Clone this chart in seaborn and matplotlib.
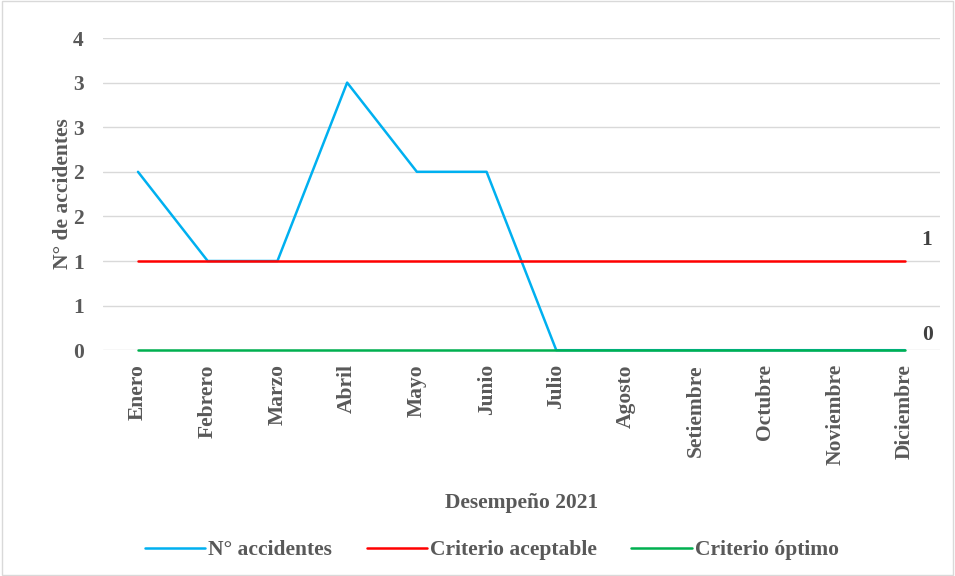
import numpy as np
import pandas as pd
import matplotlib
matplotlib.use("Agg")
import matplotlib.pyplot as plt
from matplotlib.ticker import FuncFormatter
import seaborn as sns

months = ["Enero", "Febrero", "Marzo", "Abril", "Mayo", "Junio", "Julio",
          "Agosto", "Setiembre", "Octubre", "Noviembre", "Diciembre"]
accidentes = [2, 1, 1, 3, 2, 2, 0, 0, 0, 0, 0, 0]
aceptable = [1] * 12
optimo = [0] * 12
series_names = ["N° accidentes", "Criterio aceptable", "Criterio óptimo"]
colors = ["#00B0F0", "#FF0000", "#00B050"]

sns.set_theme(style="white")
plt.rcParams["font.family"] = ["Liberation Serif", "DejaVu Serif"]
plt.rcParams["font.weight"] = "bold"

FS = 15.5
TXT = "#595959"

fig = plt.figure(figsize=(9.55, 5.76), dpi=100)
ax = fig.add_axes([0.108, 0.392, 0.876, 0.542])

x = np.arange(len(months))
for i, (name, vals, col) in enumerate(zip(series_names, [accidentes, aceptable, optimo], colors)):
    sns.lineplot(x=x, y=vals, color=col, linewidth=1.8, sort=False, ax=ax,
                 label=name, zorder=3 + i, clip_on=False)

ax.set_xlim(-0.5, 11.5)
ax.set_ylim(0, 3.5)
ax.set_yticks(np.arange(0, 3.51, 0.5))
ax.yaxis.set_major_formatter(FuncFormatter(lambda v, p: f"{int(np.floor(v + 0.5))}"))
ax.set_xticks(x)
ax.set_xticklabels(months, rotation=90)
ax.grid(axis="y", color="#D9D9D9", linewidth=1)
ax.set_axisbelow(True)
for s in ax.spines.values():
    s.set_visible(False)
ax.tick_params(axis="both", length=0, colors=TXT, labelsize=FS)
ax.tick_params(axis="x", pad=10)
ax.tick_params(axis="y", pad=14)
for lbl in ax.get_xticklabels() + ax.get_yticklabels():
    lbl.set_fontweight("bold")

ax.set_xlabel("Desempeño 2021", fontsize=FS, fontweight="bold", color=TXT, labelpad=20)
ax.set_ylabel("N° de accidentes", fontsize=FS, fontweight="bold", color=TXT, labelpad=0)

# value labels at the end of the reference lines
ax.annotate(f"{aceptable[-1]}", (11, aceptable[-1]), xytext=(16, 8), textcoords="offset points",
            ha="center", va="bottom", fontsize=FS, fontweight="bold", color="#404040")
ax.annotate(f"{optimo[-1]}", (11, optimo[-1]), xytext=(16, 4), textcoords="offset points",
            ha="center", va="bottom", fontsize=FS, fontweight="bold", color="#404040")

handles, labels = ax.get_legend_handles_labels()
ax.legend_.remove()
fig.legend(handles, labels, loc="center", bbox_to_anchor=(0.515, 0.045), ncol=3,
           frameon=False, handlelength=2.8, handletextpad=0.15, columnspacing=1.6,
           labelcolor=TXT, prop={"weight": "bold", "size": FS})

fig.patches.append(plt.Rectangle((0.002, 0.002), 0.996, 0.996, transform=fig.transFigure,
                                 fill=False, edgecolor="#D9D9D9", linewidth=1))

fig.savefig("out.png", dpi=100)
